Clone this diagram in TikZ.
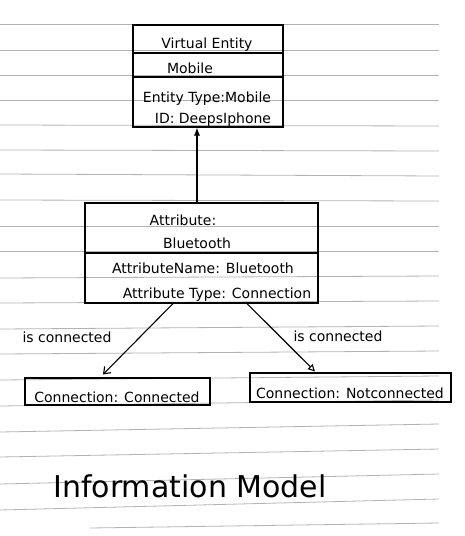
\documentclass[tikz,border=0pt]{standalone}
\usepackage{fontspec}
\setmainfont{DejaVu Sans}
\usetikzlibrary{arrows.meta}
\tikzset{
	ink/.style={line width=1.1pt, black},
	paper/.style={line width=0.8pt, gray!60},
	box/.style={ink, draw, rectangle, inner sep=0pt},
	lbl/.style={anchor=base, inner sep=0pt, font=\fontsize{14}{16}\selectfont},
}
\begin{document}
\begin{tikzpicture}[x=1pt,y=-1pt]
		\useasboundingbox (0,0) rectangle (464,536);
		% ruled paper
			\foreach \yl/\yr in {24/24,50/50,75/75,100/100,125/126,150/151,174/176,200/201,226/226,251/251,278/276,303/301,329/326,354/351,380/376,406/400,432/424,457/449,484/474,510/499}
				\draw [paper] (0,\yl) -- (439,\yr);
			\draw [paper] (90,528) -- (439,523);
		% virtual entity
			\node [box, minimum width=150pt, minimum height=102pt] (vent) at (208,76) {};
			\draw [ink] (vent.west |- 0,53) -- (vent.east |- 0,53);
			\draw [ink] (vent.west |- 0,77) -- (vent.east |- 0,77);
			\node [lbl] (ventTitle) at (207,48) {Virtual Entity};
			\node [lbl] (ventName) at (190,73) {Mobile};
			\node [lbl] (ventType) at (207,102) {Entity Type:Mobile};
			\node [lbl] (ventId) at (213,123) {ID: DeepsIphone};
		% attribute
			\node [box, minimum width=233pt, minimum height=100pt] (attr) at (201.5,253) {};
			\draw [ink] (attr.west) -- (attr.east);
			\node [lbl] (attrTitle) at (183,225) {Attribute:};
			\node [lbl] (attrName) at (197,248) {Bluetooth};
			\node [lbl] (attrKey) at (203,273) {AttributeName: Bluetooth};
			\node [lbl] (attrType) at (217,298) {Attribute Type: Connection};
		% connections
			\node [box, minimum width=185pt, minimum height=27pt] (conn) at (117.5,391.5) {};
			\node [lbl] (connText) at (117,402) {Connection: Connected};
			\node [box, minimum width=201pt, minimum height=29pt] (notconn) at (350.5,387.5) {};
			\node [lbl] (notconnText) at (350,398) {Connection: Notconnected};
		% arrows
			\draw [ink, -{Latex[length=8pt,width=6pt]}] ([xshift=-4.5pt]attr.north) -- ([xshift=-4.5pt]attr.north |- vent.south);
			\draw [ink, -{Straight Barb[length=6pt,width=9pt]}] ([xshift=-28.5pt]attr.south) -- ([xshift=-14.5pt,yshift=3pt]conn.north);
			\draw [ink, -{Triangle[open,length=7pt,width=7pt]}] ([xshift=45.5pt]attr.south) -- ([xshift=-35.5pt,yshift=1pt]notconn.north);
			\node [lbl] (isconnLeft) at (67,342) {is connected};
			\node [lbl] (isconnRight) at (338,341) {is connected};
		% title
			\node [lbl, font=\fontsize{30}{34}\selectfont] (title) at (190,497) {Information Model};
	\end{tikzpicture}
\end{document}
